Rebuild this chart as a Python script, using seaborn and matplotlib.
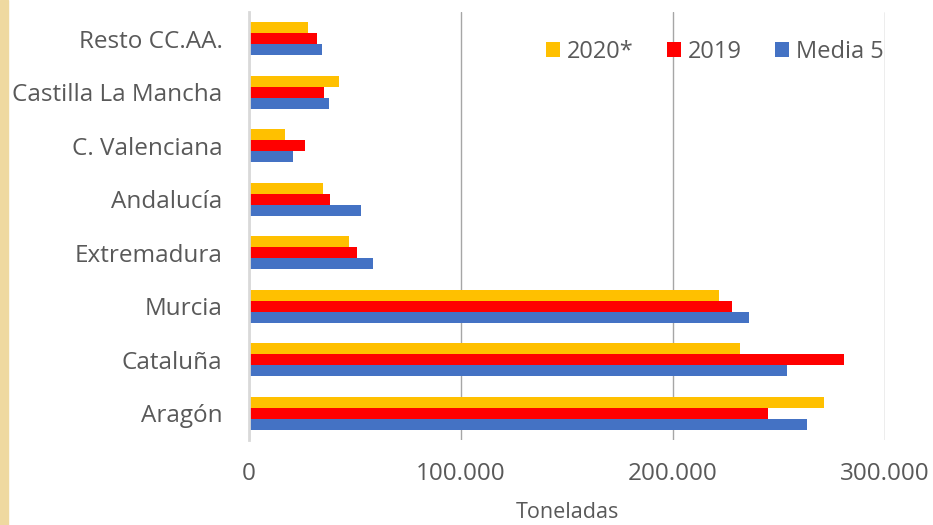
import pandas as pd
import seaborn as sns
import matplotlib.pyplot as plt
from matplotlib.ticker import FuncFormatter
from matplotlib.patches import Rectangle

# Data (toneladas)
regions = ["Resto CC.AA.", "Castilla La Mancha", "C. Valenciana", "Andalucía",
           "Extremadura", "Murcia", "Cataluña", "Aragón"]
val_2020 = [27800, 42400, 17100, 35000, 47000, 221700, 231800, 271400]
val_2019 = [31900, 35400, 26400, 38400, 51100, 228000, 280800, 244800]
val_media5 = [34600, 37600, 20900, 53000, 58600, 235700, 253900, 263400]
series = ["2020*", "2019", "Media 5"]
colors = ["#FFC000", "#FF0000", "#4472C4"]
x_ticks = [0, 100000, 200000, 300000]

df = pd.DataFrame({
    "region": regions * 3,
    "serie": [series[0]] * 8 + [series[1]] * 8 + [series[2]] * 8,
    "toneladas": val_2020 + val_2019 + val_media5,
})

sns.set_style("white")
plt.rcParams['font.family'] = ['Open Sans', 'DejaVu Sans']

fig = plt.figure(figsize=(9.33, 5.25), dpi=100)
ax = fig.add_axes([249 / 933, 85 / 525, 636 / 933, 428 / 525])

sns.barplot(data=df, y="region", x="toneladas", hue="serie", order=regions,
            hue_order=series, palette=colors, orient="h", width=0.617,
            linewidth=0, saturation=1, ax=ax)

ax.set_xlim(0, 300000)
ax.set_xticks(x_ticks)
ax.xaxis.set_major_formatter(FuncFormatter(lambda v, p: f"{v:,.0f}".replace(",", ".")))
ax.set_axisbelow(True)
ax.grid(axis="x", color="#A6A6A6", linewidth=1)
ax.grid(axis="y", visible=False)
for s in ["top", "right", "bottom"]:
    ax.spines[s].set_visible(False)
ax.spines["left"].set_color("#D9D9D9")
ax.spines["left"].set_linewidth(2)

ax.tick_params(axis="y", length=0, pad=19, labelsize=17.5, labelcolor="#595959")
ax.tick_params(axis="x", length=0, pad=16, labelsize=17.5, labelcolor="#595959")
ax.set_ylabel("")
ax.set_xlabel("Toneladas", fontsize=15.5, color="#595959", labelpad=11)

ax.legend(loc="upper right", bbox_to_anchor=(1.032, 0.985), ncol=3, frameon=False,
          fontsize=17, labelcolor="#595959", handlelength=0.6, handleheight=0.6,
          handletextpad=0.3, columnspacing=1.4)

# decorative gold strip on the left edge
fig.patches.append(Rectangle((0, 0), 8 / 933, 1, transform=fig.transFigure,
                             color="#EFD9A0", zorder=0))

plt.savefig("out.png", dpi=100)
plt.close()
